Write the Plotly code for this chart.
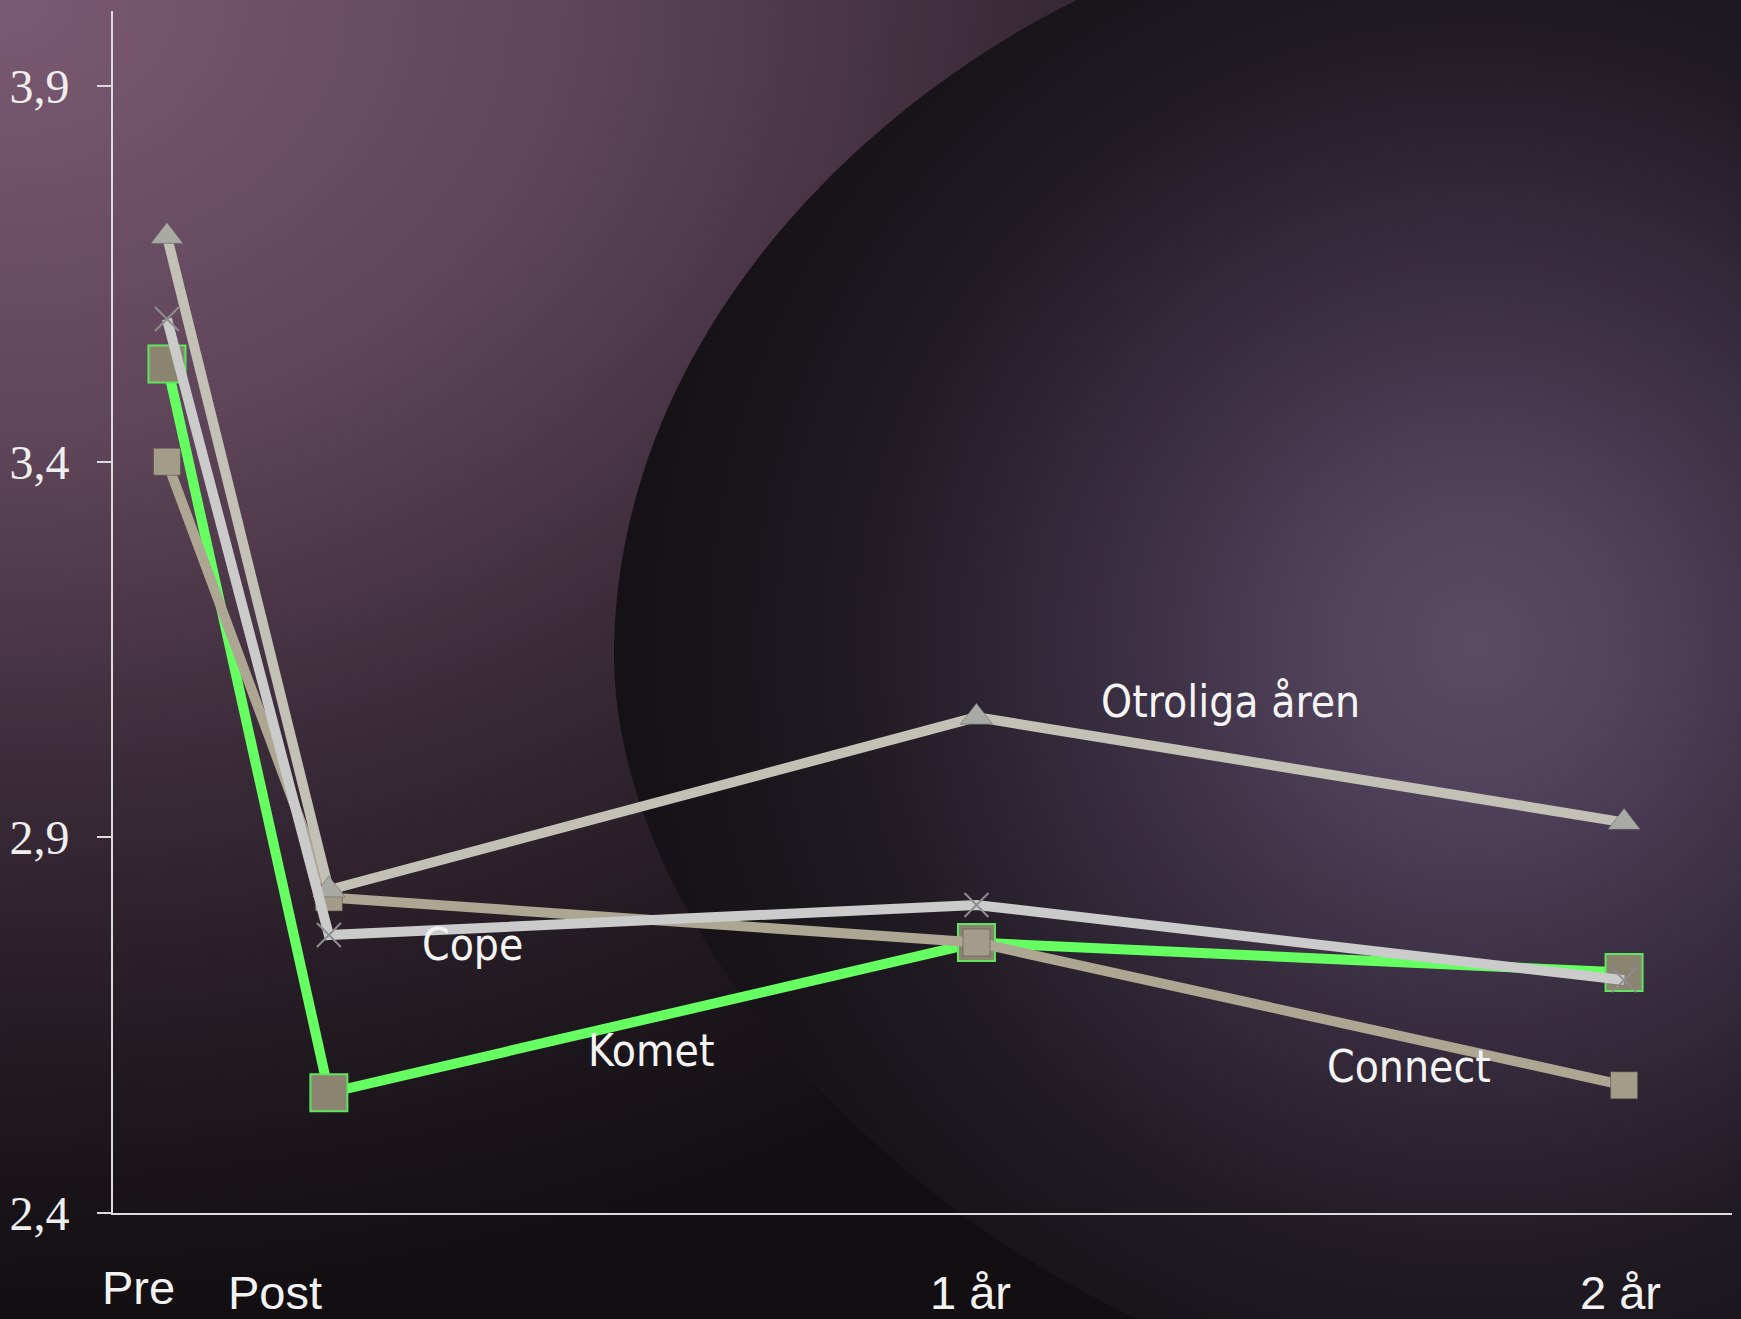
import base64
import plotly.graph_objects as go

# ---------------- data ----------------
time_labels = ["Pre", "Post", "1 år", "2 år"]
months = [-3, 0, 12, 24]          # time relative to end of treatment

otroliga = [3.70, 2.83, 3.06, 2.92]
cope = [3.59, 2.77, 2.81, 2.71]
komet = [3.53, 2.56, 2.76, 2.72]
connect = [3.40, 2.82, 2.76, 2.57]

series_names = ["Otroliga åren", "Cope", "Komet", "Connect"]

y_ticks = [2.4, 2.9, 3.4, 3.9]
y_tick_text = ["2,4", "2,9", "3,4", "3,9"]

# ---------------- geometry ----------------
W_FIG, H_FIG = 1741, 1319
M_L, M_R, M_T, M_B = 113, 9, 11, 106
PW = W_FIG - M_L - M_R
PH = H_FIG - M_T - M_B


def px_x(px):
    return (px - M_L) / PW


def px_y(py):
    return 1 - (py - M_T) / PH


# ---------------- background (SVG) ----------------
svg = f"""<svg xmlns='http://www.w3.org/2000/svg' width='{W_FIG}' height='{H_FIG}' viewBox='0 0 1568 1188' preserveAspectRatio='none'>
<defs>
<radialGradient id='bg' cx='0' cy='0' r='1200' gradientUnits='userSpaceOnUse' gradientTransform='scale(1.3 1)'>
<stop offset='0' stop-color='#7a5a72'/>
<stop offset='0.33' stop-color='#5f4559'/>
<stop offset='0.58' stop-color='#3b2b39'/>
<stop offset='0.76' stop-color='#261c25'/>
<stop offset='0.95' stop-color='#141014'/>
<stop offset='1' stop-color='#120e12'/>
</radialGradient>
<radialGradient id='sph' cx='1330' cy='580' r='820' gradientUnits='userSpaceOnUse'>
<stop offset='0' stop-color='#5a4a64'/>
<stop offset='0.15' stop-color='#52435c'/>
<stop offset='0.4' stop-color='#3a2e41'/>
<stop offset='0.7' stop-color='#1f1921'/>
<stop offset='1' stop-color='#130f13'/>
</radialGradient>
</defs>
<rect x='0' y='0' width='1568' height='1188' fill='url(#bg)'/>
<path d='M 980,-5 C 780,90 560,300 553,580 C 548,820 780,1080 1040,1195 L 1600,1195 L 1600,-5 Z' fill='url(#sph)'/>
</svg>"""
svg_uri = "data:image/svg+xml;base64," + base64.b64encode(svg.encode("utf-8")).decode("ascii")

# ---------------- traces ----------------
fig = go.Figure()

fig.add_trace(go.Scatter(
    x=months, y=komet, mode="lines+markers", name=series_names[2],
    line=dict(color="#66ff62", width=10),
    marker=dict(symbol="square", size=37, color="#8a8471",
                line=dict(color="#5fe65f", width=2)),
))
fig.add_trace(go.Scatter(
    x=months, y=connect, mode="lines+markers", name=series_names[3],
    line=dict(color="#aca692", width=10),
    marker=dict(symbol="square", size=27, color="#a29c89",
                line=dict(color="rgba(80,75,65,0.5)", width=1)),
))
fig.add_trace(go.Scatter(
    x=months, y=otroliga, mode="lines+markers", name=series_names[0],
    line=dict(color="#c3c0b6", width=10),
    marker=dict(symbol="triangle-up", size=28, color="#a9aaa3",
                line=dict(color="rgba(90,90,90,0.5)", width=1)),
))
fig.add_trace(go.Scatter(
    x=months, y=cope, mode="lines+markers", name=series_names[1],
    line=dict(color="#cbcbcb", width=10),
    marker=dict(symbol="x-thin", size=24,
                line=dict(color="#8e8e8e", width=2)),
))

# ---------------- series labels ----------------
label_font = dict(family="Liberation Sans Narrow, Arial Narrow, DejaVu Sans Condensed, sans-serif",
                  size=44, color="#f4f4f4")
label_px = {  # centre of text in pixels
    "Otroliga åren": (1230, 701),
    "Cope": (472, 944),
    "Komet": (651, 1050),
    "Connect": (1409, 1066),
}
for name in series_names:
    px, py = label_px[name]
    fig.add_annotation(x=px_x(px), y=px_y(py), xref="paper", yref="paper",
                       text=name, showarrow=False, font=label_font,
                       xanchor="center", yanchor="middle")

# ---------------- x category labels ----------------
xlab_px = [(138, 1287), (275, 1292), (970, 1292), (1620, 1292)]
for lab, (px, py) in zip(time_labels, xlab_px):
    fig.add_annotation(x=px_x(px), y=px_y(py), xref="paper", yref="paper",
                       text=lab, showarrow=False,
                       font=dict(family="Liberation Sans, Arial, sans-serif", size=47, color="#f2f2f2"),
                       xanchor="center", yanchor="middle")

fig.update_layout(
    width=W_FIG, height=H_FIG,
    margin=dict(l=M_L, r=M_R, t=M_T, b=M_B),
    paper_bgcolor="#141014",
    plot_bgcolor="rgba(0,0,0,0)",
    showlegend=False,
    images=[dict(source=svg_uri, xref="paper", yref="paper",
                 x=-M_L / PW, y=1 + M_T / PH,
                 sizex=W_FIG / PW, sizey=H_FIG / PH,
                 xanchor="left", yanchor="top", sizing="stretch",
                 layer="below")],
    xaxis=dict(range=[-4, 26], showgrid=False, zeroline=False,
               showline=True, linecolor="#dcdcdc", linewidth=2,
               showticklabels=False, ticks=""),
    yaxis=dict(range=[2.4, 4.0], showgrid=False, zeroline=False,
               showline=True, linecolor="#dcdcdc", linewidth=2,
               tickvals=y_ticks, ticktext=y_tick_text,
               ticks="outside", ticklen=14, tickwidth=2, tickcolor="#dcdcdc",
               ticklabelstandoff=18,
               tickfont=dict(family="Liberation Serif, Times New Roman, serif",
                             size=48, color="#eeeeee")),
)

fig.write_html("out.html", post_script="document.body.style.margin='0';")
